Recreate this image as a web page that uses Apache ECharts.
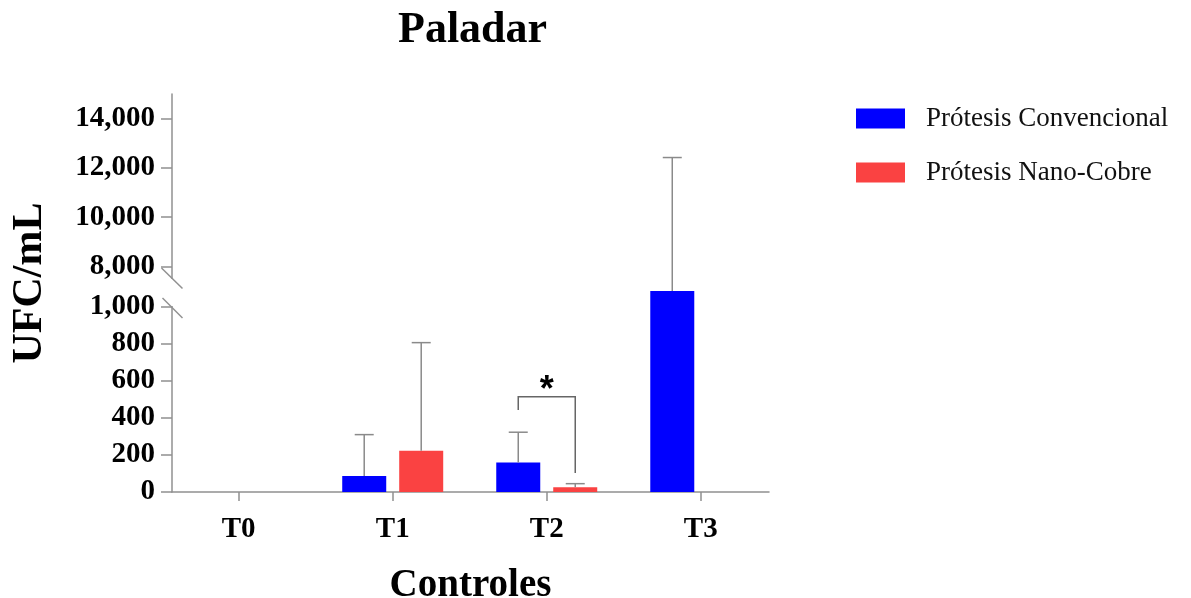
<!DOCTYPE html>
<html>
<head>
<meta charset="utf-8">
<script src="https://cdn.jsdelivr.net/npm/echarts@6/dist/echarts.min.js"></script>
<style>html,body{margin:0;padding:0;background:#fff;}#c{width:1191px;height:598px;}</style>
</head>
<body>
<div id="c"></div>
<script>
// ---- data ----
const categories = ['T0', 'T1', 'T2', 'T3'];
const seriesNames = ['Prótesis Convencional', 'Prótesis Nano-Cobre'];
const convMean = [0, 86, 160, 7000];
const convSD   = [0, 224, 163, 5420];
const nanoMean = [0, 223, 25, 0];
const nanoSD   = [0, 584, 20, 0];
const lowerTicks = [0, 200, 400, 600, 800, 1000];
const upperTicks = [8000, 10000, 12000, 14000];
const sigLabel = '*';
const sigBracket = {cat: 2, left: 443, top: 514, right: 103};

// ---- styling ----
const SERIF = "'Liberation Serif','Times New Roman',serif";
const AX = '#909090';
const ERR = '#8a8a8a';
const BLUE = '#0000FF';
const RED = '#FA4242';
const LOWER_MAX = 1086;
const HALF = 28.5; // px offset of bar centres from category
const X_MIN = -0.433, X_MAX = 3.443;

const fmt = v => Number(v).toLocaleString('en-US');

function errData(means, sds, side, wantUpper) {
  const out = [];
  means.forEach((m, i) => {
    const sd = sds[i];
    if (!sd) return;
    const isUpper = (m + sd) > LOWER_MAX;
    if (isUpper === wantUpper) out.push([i, m, sd, side]);
  });
  return out;
}
function renderErr(params, api) {
  const x = api.value(0), m = api.value(1), sd = api.value(2), side = api.value(3);
  const b = api.coord([x, m]);
  const t = api.coord([x, m + sd]);
  const cx = b[0] + side * HALF;
  const st = {stroke: ERR, lineWidth: 1.5};
  return {type: 'group', children: [
    {type: 'line', shape: {x1: cx, y1: b[1], x2: cx, y2: t[1]}, style: st},
    {type: 'line', shape: {x1: cx - 9.5, y1: t[1], x2: cx + 9.5, y2: t[1]}, style: st}
  ]};
}

const xBase = {
  type: 'value', min: X_MIN, max: X_MAX, splitLine: {show: false}
};
const yLabel = {formatter: fmt, margin: 17,
  fontFamily: SERIF, fontWeight: 'bold', fontSize: 29, color: '#000'};

const option = {
  animation: false,
  backgroundColor: '#fff',
  title: {
    text: 'Paladar', left: 398, top: 9, padding: 0,
    textStyle: {fontFamily: SERIF, fontWeight: 'bold', fontSize: 44, color: '#000'}
  },
  legend: {
    orient: 'vertical', left: 856, top: 105, padding: 0,
    itemWidth: 49, itemHeight: 20, itemGap: 27,
    data: seriesNames.map(n => ({name: n, icon: 'rect'})),
    textStyle: {fontFamily: SERIF, fontSize: 27, color: '#111', padding: [0, 0, 0, 16]}
  },
  grid: [
    {left: 172, right: 422, top: 291, bottom: 106, outerBoundsMode: 'none'},
    {left: 172, right: 422, top: 94, bottom: 307, outerBoundsMode: 'none'}
  ],
  xAxis: [
    Object.assign({}, xBase, {
      gridIndex: 0,
      axisLine: {show: true, onZero: false, lineStyle: {color: AX, width: 1.5}},
      axisTick: {show: true, length: 9, lineStyle: {color: AX, width: 1.5}, customValues: [0, 1, 2, 3]},
      axisLabel: {
        customValues: [0, 1, 2, 3], margin: 23,
        formatter: v => categories[Math.round(v)],
        fontFamily: SERIF, fontWeight: 'bold', fontSize: 29, color: '#000'
      },
      name: 'Controles', nameLocation: 'middle', nameGap: 74,
      nameTextStyle: {fontFamily: SERIF, fontWeight: 'bold', fontSize: 39, color: '#000'}
    }),
    Object.assign({}, xBase, {gridIndex: 1, show: false, axisLine: {onZero: false}})
  ],
  yAxis: [
    {
      type: 'value', gridIndex: 0, min: 0, max: LOWER_MAX,
      splitLine: {show: false},
      axisLine: {show: true, onZero: false, lineStyle: {color: AX, width: 1.5}},
      axisTick: {show: true, length: 11, lineStyle: {color: AX, width: 1.5}, customValues: lowerTicks},
      axisLabel: Object.assign({customValues: lowerTicks}, yLabel)
    },
    {
      type: 'value', gridIndex: 1, min: 7000, max: 15000,
      splitLine: {show: false},
      axisLine: {show: true, onZero: false, lineStyle: {color: AX, width: 1.5}},
      axisTick: {show: true, length: 11, lineStyle: {color: AX, width: 1.5}, customValues: upperTicks},
      axisLabel: Object.assign({customValues: upperTicks}, yLabel)
    }
  ],
  series: [
    {name: seriesNames[0], type: 'bar', xAxisIndex: 0, yAxisIndex: 0, clip: true,
     barWidth: 44, barGap: '29.5%', itemStyle: {color: BLUE},
     data: convMean.map((v, i) => [i, v])},
    {name: seriesNames[1], type: 'bar', xAxisIndex: 0, yAxisIndex: 0, clip: true,
     barWidth: 44, barGap: '29.5%', itemStyle: {color: RED},
     data: nanoMean.map((v, i) => [i, v])},
    {name: seriesNames[0], type: 'bar', xAxisIndex: 1, yAxisIndex: 1, clip: true,
     barWidth: 44, barGap: '29.5%', itemStyle: {color: BLUE},
     data: convMean.map((v, i) => [i, v])},
    {name: seriesNames[1], type: 'bar', xAxisIndex: 1, yAxisIndex: 1, clip: true,
     barWidth: 44, barGap: '29.5%', itemStyle: {color: RED},
     data: nanoMean.map((v, i) => [i, v])},
    {type: 'custom', xAxisIndex: 0, yAxisIndex: 0, renderItem: renderErr, z: 3,
     data: errData(convMean, convSD, -1, false).concat(errData(nanoMean, nanoSD, 1, false))},
    {type: 'custom', xAxisIndex: 1, yAxisIndex: 1, renderItem: renderErr, z: 3,
     data: errData(convMean, convSD, -1, true).concat(errData(nanoMean, nanoSD, 1, true))},
    {type: 'custom', xAxisIndex: 0, yAxisIndex: 0, z: 4,
     data: [[sigBracket.cat, sigBracket.left, sigBracket.top, sigBracket.right]],
     renderItem: function (params, api) {
       const c = api.value(0);
       const pl = api.coord([c, api.value(1)]);
       const pt = api.coord([c, api.value(2)]);
       const pr = api.coord([c, api.value(3)]);
       const xl = pl[0] - HALF, xr = pl[0] + HALF;
       return {type: 'group', children: [
         {type: 'polyline', shape: {points: [[xl, pl[1]], [xl, pt[1]], [xr, pt[1]], [xr, pr[1]]]},
          style: {stroke: '#666', lineWidth: 1.5, fill: null}},
         {type: 'text', x: (xl + xr) / 2, y: pt[1] - 6,
          style: {text: sigLabel, fontFamily: "'Liberation Sans',Arial,sans-serif", fontWeight: 'bold',
                  fontSize: 36, fill: '#000', align: 'center', verticalAlign: 'middle'}}
       ]};
     }}
  ],
  graphic: [
    {type: 'rect', z: 100, shape: {x: 167, y: 279, width: 10, height: 27}, style: {fill: '#fff'}},
    {type: 'line', z: 101, shape: {x1: 161.5, y1: 268, x2: 182.5, y2: 288.5}, style: {stroke: AX, lineWidth: 1.5}},
    {type: 'line', z: 101, shape: {x1: 162.5, y1: 298, x2: 182.5, y2: 318}, style: {stroke: AX, lineWidth: 1.5}},
    {type: 'text', z: 101, x: 30, y: 283, rotation: Math.PI / 2,
     style: {text: 'UFC/mL', fontFamily: SERIF, fontWeight: 'bold', fontSize: 42, fill: '#000',
             align: 'center', verticalAlign: 'middle'}}
  ]
};

const chart = echarts.init(document.getElementById('c'), null, {renderer: 'canvas'});
chart.setOption(option);
</script>
</body>
</html>
